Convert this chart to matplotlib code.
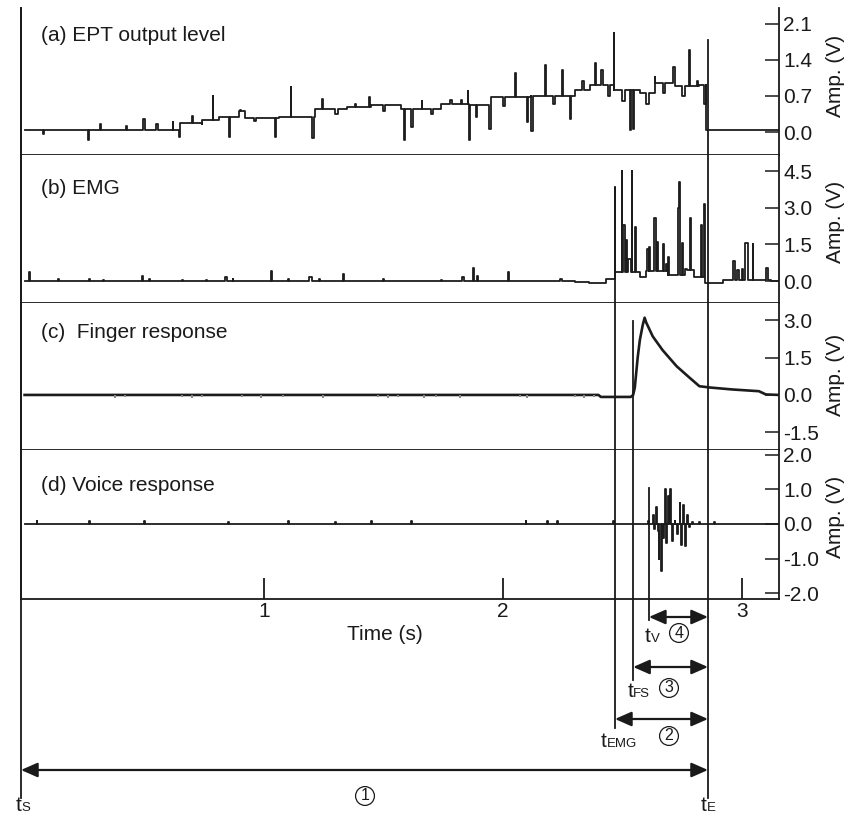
import numpy as np
import matplotlib
matplotlib.use("Agg")
import matplotlib.pyplot as plt
from matplotlib.lines import Line2D
from matplotlib.transforms import blended_transform_factory, offset_copy

plt.rcParams['font.family'] = ['Liberation Sans', 'DejaVu Sans']

# ---- data (time in s, amplitude in V) ----
t_S, t_EMG, t_FS, t_V, t_E = -0.015, 2.469, 2.545, 2.611, 2.858
t_end = 3.155

# (a) EPT output level: step levels + short excursions
ept_step_t = [0.0, 0.648, 0.744, 0.815, 0.898, 0.92, 1.064, 1.214, 1.347, 1.45, 1.575,
              1.742, 1.858, 1.949, 2.116, 2.30, 2.365, 2.465, 2.573, 2.635, 2.718, 2.822, 2.851]
ept_step_v = [0.04, 0.17, 0.24, 0.30, 0.40, 0.28, 0.30, 0.44, 0.48, 0.52, 0.44,
              0.55, 0.52, 0.68, 0.70, 0.82, 0.92, 0.82, 0.75, 0.95, 0.90, 0.92, 0.04]
ept_spk_t = [0.079, 0.266, 0.316, 0.424, 0.495, 0.549, 0.619, 0.645, 0.70, 0.74, 0.786,
             0.856, 0.90, 0.96, 1.047, 1.114, 1.201, 1.243, 1.30, 1.38, 1.442, 1.50,
             1.588, 1.617, 1.66, 1.70, 1.78, 1.825, 1.854, 1.86, 1.887, 1.941, 2.00,
             2.053, 2.10, 2.116, 2.178, 2.21, 2.249, 2.282, 2.33, 2.386, 2.41, 2.44,
             2.465, 2.50, 2.531, 2.544, 2.60, 2.635, 2.67, 2.71, 2.75, 2.78, 2.81, 2.843]
ept_spk_v = [-0.03, -0.15, 0.15, 0.12, 0.25, 0.15, 0.20, -0.10, 0.32, 0.15, 0.70,
             -0.10, 0.43, 0.22, -0.10, 0.87, -0.12, 0.65, 0.35, 0.55, 0.68, 0.40,
             -0.15, 0.10, 0.60, 0.35, 0.62, 0.62, 0.80, -0.15, 0.30, 0.05, 0.50,
             1.15, 0.20, 0.02, 1.30, 0.55, 1.20, 0.25, 1.00, 1.34, 1.20, 0.70,
             1.92, 0.60, 0.04, 0.05, 0.55, 1.07, 0.75, 1.27, 0.70, 1.60, 1.00, 0.55]
ept_spk_w = [0.003, 0.004, 0.003, 0.003, 0.008, 0.010, 0.003, 0.004, 0.006, 0.004, 0.002,
             0.004, 0.003, 0.008, 0.004, 0.002, 0.008, 0.003, 0.010, 0.006, 0.002, 0.008,
             0.003, 0.008, 0.004, 0.010, 0.008, 0.004, 0.002, 0.002, 0.003, 0.010, 0.008,
             0.002, 0.004, 0.010, 0.002, 0.010, 0.003, 0.004, 0.010, 0.004, 0.010, 0.010,
             0.002, 0.010, 0.006, 0.003, 0.010, 0.003, 0.010, 0.010, 0.010, 0.002, 0.008, 0.006]

# (b) EMG
emg_step_t = [0.0, 2.30, 2.36, 2.43, 2.47, 2.575, 2.60, 2.69, 2.76, 2.80, 2.845, 2.92, 3.12]
emg_step_v = [0.0, -0.05, -0.10, 0.08, 0.35, 0.15, 0.40, 0.25, 0.45, 0.15, -0.08, 0.04, 0.0]
emg_spk_t = [0.02, 0.14, 0.27, 0.33, 0.49, 0.52, 0.66, 0.76, 0.84, 0.87, 1.03, 1.10, 1.19,
             1.23, 1.33, 1.50, 1.74, 1.83, 1.875, 1.89, 2.02, 2.24,
             2.469, 2.497, 2.504, 2.515, 2.524, 2.539, 2.553, 2.604, 2.613, 2.632, 2.645,
             2.669, 2.683, 2.692, 2.734, 2.738, 2.748, 2.762, 2.783, 2.829, 2.842,
             2.964, 2.978, 2.999, 3.011, 3.045, 3.101]
emg_spk_v = [0.35, 0.10, 0.10, 0.05, 0.20, 0.10, 0.05, 0.06, 0.15, 0.10, 0.40, 0.10, 0.15,
             0.10, 0.30, 0.10, 0.05, 0.15, 0.55, 0.20, 0.35, 0.10,
             3.80, 4.50, 2.30, 1.70, 0.90, 4.50, 2.20, 1.30, 1.40, 2.60, 1.60,
             1.50, 0.70, 1.00, 3.00, 4.05, 1.55, 0.50, 2.60, 2.30, 3.15,
             0.80, 0.45, 0.50, 1.55, 1.50, 0.55]
emg_spk_w = [0.004, 0.004, 0.004, 0.003, 0.006, 0.004, 0.003, 0.003, 0.006, 0.003, 0.004, 0.004, 0.010,
             0.004, 0.006, 0.004, 0.004, 0.006, 0.004, 0.006, 0.006, 0.006,
             0.002, 0.002, 0.008, 0.006, 0.014, 0.002, 0.006, 0.006, 0.004, 0.010, 0.004,
             0.006, 0.004, 0.003, 0.006, 0.002, 0.006, 0.008, 0.002, 0.006, 0.006,
             0.006, 0.008, 0.004, 0.014, 0.002, 0.006]

# (c) Finger response
fin_t = [0.0, 2.40, 2.41, 2.535, 2.545, 2.552, 2.564, 2.573, 2.585, 2.593, 2.60, 2.627,
         2.668, 2.727, 2.78, 2.822, 2.864, 2.959, 3.071, 3.10, 3.155]
fin_v = [0.0, 0.0, -0.08, -0.08, 0.0, 0.30, 1.50, 2.20, 2.80, 3.10, 2.90, 2.35,
         1.80, 1.15, 0.70, 0.35, 0.30, 0.22, 0.15, 0.02, 0.0]
fin_blip_t = [0.38, 0.42, 0.66, 0.70, 0.74, 0.91, 0.99, 1.08, 1.25, 1.48, 1.52, 1.56,
              1.67, 1.72, 1.82, 2.07, 2.10, 2.30, 2.34, 2.38]
fin_blip_v = [-0.12, -0.10, -0.10, -0.12, -0.08, -0.10, -0.12, -0.10, -0.12, -0.10, -0.12, -0.10,
              -0.12, -0.10, -0.12, -0.10, -0.12, -0.10, -0.12, -0.10]

# (d) Voice response
voi_t = [0.05, 0.27, 0.50, 0.85, 1.10, 1.30, 1.45, 1.617, 2.095, 2.186, 2.228, 2.461,
         2.607, 2.628, 2.633, 2.642, 2.649, 2.653, 2.663, 2.670, 2.677, 2.684, 2.690, 2.700,
         2.709, 2.718, 2.729, 2.739, 2.746, 2.752, 2.762, 2.769, 2.780, 2.793, 2.822, 2.884]
voi_v = [0.08, 0.08, 0.08, 0.06, 0.08, 0.06, 0.08, 0.10, 0.08, 0.10, 0.08, 0.10,
         0.10, 0.25, -0.15, 0.50, -0.20, -1.00, -1.35, -0.40, 1.00, -0.55, 0.80, 1.00,
         -0.50, 0.10, -0.30, 0.60, -0.60, 0.55, -0.65, 0.25, -0.10, 0.05, 0.06, 0.06]

panels = ["(a) EPT output level", "(b) EMG", "(c)  Finger response", "(d) Voice response"]
yticks = [[0.0, 0.7, 1.4, 2.1], [0.0, 1.5, 3.0, 4.5], [-1.5, 0.0, 1.5, 3.0],
          [-2.0, -1.0, 0.0, 1.0, 2.0]]
ytick_labels = [["0.0", "0.7", "1.4", "2.1"], ["0.0", "1.5", "3.0", "4.5"],
                ["-1.5", "0.0", "1.5", "3.0"], ["-2.0", "-1.0", "0.0", "1.0", "2.0"]]
ylims = [(-0.447, 2.41), (-0.9, 5.16), (-2.21, 3.69), (-2.17, 2.14)]
xticks = [1, 2, 3]


def pulse_trace(step_t, step_v, pulse_t, pulse_v, pulse_w, t_stop):
    step_t = np.asarray(step_t, float)
    step_v = np.asarray(step_v, float)
    pt = np.asarray(pulse_t, float)
    pv = np.asarray(pulse_v, float)
    pw = np.broadcast_to(np.asarray(pulse_w, float), pt.shape)

    def level(t):
        i = np.searchsorted(step_t, t, side="right") - 1
        return step_v[np.clip(i, 0, None)]

    t = np.concatenate([step_t, pt, pt + pw, [t_stop]])
    v = np.concatenate([step_v, pv, level(pt + pw), level(np.array([t_stop]))])
    order = np.argsort(t, kind="stable")
    return t[order], v[order]


W, H = 847, 816
fig = plt.figure(figsize=(W / 100, H / 100), dpi=100)
edges = [8, 155, 303, 450, 599]
left, right = 21, 779
axes = []
for i in range(4):
    ax = fig.add_axes([left / W, 1 - edges[i + 1] / H, (right - left) / W,
                       (edges[i + 1] - edges[i]) / H])
    axes.append(ax)

col = "#1c1c1c"
lw_sig = 1.3
ta, va = pulse_trace(ept_step_t, ept_step_v, ept_spk_t, ept_spk_v, ept_spk_w, t_end)
axes[0].plot(ta, va, drawstyle="steps-post", color=col, lw=lw_sig)
tb, vb = pulse_trace(emg_step_t, emg_step_v, emg_spk_t, emg_spk_v, emg_spk_w, t_end)
axes[1].plot(tb, vb, drawstyle="steps-post", color=col, lw=lw_sig)
axes[2].plot(fin_t, fin_v, color=col, lw=1.9)
axes[2].vlines(fin_blip_t, 0, fin_blip_v, color="#888888", lw=1.5)
td, vd = pulse_trace([0.0], [0.0], voi_t, voi_v, 0.004, t_end)
axes[3].plot(td, vd, drawstyle="steps-post", color=col, lw=lw_sig)

for i, ax in enumerate(axes):
    ax.set_xlim(t_S, t_end)
    ax.set_ylim(*ylims[i])
    ax.spines["top"].set_visible(False)
    for s in ("left", "right", "bottom"):
        ax.spines[s].set_linewidth(1.3)
        ax.spines[s].set_color("#1a1a1a")
    ax.yaxis.tick_right()
    ax.set_yticks(yticks[i])
    ax.set_yticklabels(ytick_labels[i])
    ax.tick_params(axis="y", direction="in", length=10, width=1.1, pad=3,
                   labelsize=15, colors="#1a1a1a")
    ax.text(0.026, [0.816, 0.777, 0.796, 0.765][i], panels[i], transform=ax.transAxes,
            fontsize=15, va="center", ha="left", color="#1a1a1a")
    ax.text(1.074, [0.537, 0.547, 0.51, 0.55][i], "Amp. (V)", transform=ax.transAxes,
            rotation=90, fontsize=15, va="center", ha="center", color="#1a1a1a")
    if i < 3:
        ax.tick_params(axis="x", bottom=False, labelbottom=False)

axd = axes[3]
axd.set_xticks(xticks)
axd.set_xticklabels([str(x) for x in xticks])
axd.tick_params(axis="x", direction="in", length=15, width=1.3, pad=2, labelsize=15,
                colors="#1a1a1a")

# marker lines and interval arrows, x in time, y in figure pixels
trans = blended_transform_factory(axd.transData, fig.transFigure)


def fy(p):
    return 1 - p / H


markers = [(t_S, 8, 798), (t_E, 40, 798), (t_EMG, 187, 728), (t_FS, 321, 680), (t_V, 488, 620)]
for t, y0, y1 in markers:
    fig.add_artist(Line2D([t, t], [fy(y0), fy(y1)], transform=trans, color="#1a1a1a",
                          lw=1.3, clip_on=False))

arrows = [(t_S, 770), (t_EMG, 719), (t_FS, 667), (t_V, 617)]
for t0, y in arrows:
    axd.annotate("", xy=(t_E, fy(y)), xytext=(t0, fy(y)), xycoords=trans, textcoords=trans,
                 annotation_clip=False,
                 arrowprops=dict(arrowstyle="<|-|>,head_length=0.5,head_width=0.22",
                                 color="#1a1a1a", lw=1.6, mutation_scale=20,
                                 shrinkA=0, shrinkB=0))

names = [(t_S, "S", 0, 811), (t_E, "E", -1, 811), (t_EMG, "EMG", -8, 747),
         (t_FS, "FS", 0, 697), (t_V, "V", 2, 642)]
for t, sub, dx, yb in names:
    tr = offset_copy(trans, fig=fig, x=dx, y=0, units="dots")
    fig.text(t, fy(yb), "t", transform=tr, ha="right", va="baseline", fontsize=15,
             color="#1a1a1a")
    fig.text(t, fy(yb), sub, transform=tr, ha="left", va="baseline", fontsize=9.5,
             color="#1a1a1a")

circled = [("1", 365, 796), ("2", 669, 736), ("3", 669, 688), ("4", 679, 633)]
for s, x, y in circled:
    fig.text(x / W, fy(y), s, ha="center", va="center", fontsize=11.5, color="#1a1a1a",
             bbox=dict(boxstyle="circle,pad=0.12", fc="white", ec="#1a1a1a", lw=0.9))

fig.text(385 / W, fy(635), "Time (s)", ha="center", va="center", fontsize=15,
         color="#1a1a1a")

fig.savefig("out.png", dpi=100)
